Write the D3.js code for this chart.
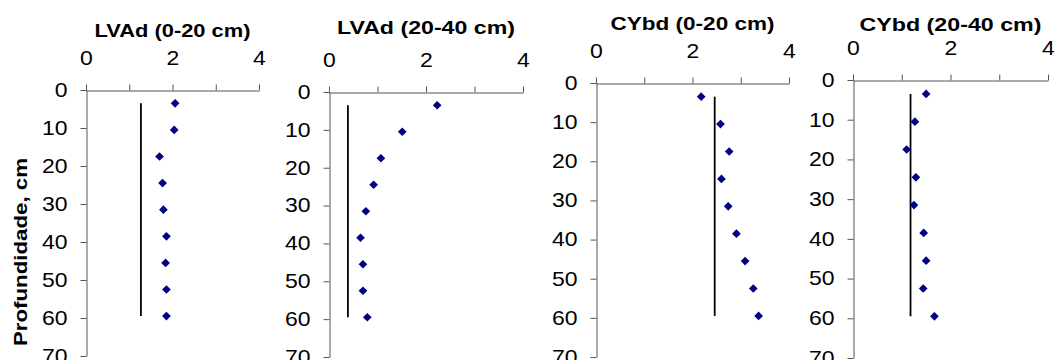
<!DOCTYPE html>
<html>
<head>
<meta charset="utf-8">
<script src="https://cdn.jsdelivr.net/npm/d3@7/dist/d3.min.js"></script>
<style>
  html, body { margin: 0; padding: 0; background: #fff; }
  svg { display: block; }
  text { font-family: "Liberation Sans", Arial, sans-serif; fill: #000; }
</style>
</head>
<body>
<svg id="chart" width="1055" height="360"></svg>
<script>
// Sampling depths (cm), midpoints of 7 cm layers
const depths = [3.5, 10.5, 17.5, 24.5, 31.5, 38.5, 45.5, 52.5, 59.5];

// Panel titles
const titles = ["LVAd (0-20 cm)", "LVAd (20-40 cm)", "CYbd (0-20 cm)", "CYbd (20-40 cm)"];

// Measured values per profile
const lvad020  = [2.06, 2.04, 1.70, 1.77, 1.79, 1.86, 1.84, 1.86, 1.86];
const lvad2040 = [2.23, 1.51, 1.07, 0.92, 0.76, 0.65, 0.70, 0.70, 0.79];
const cybd020  = [2.18, 2.58, 2.76, 2.60, 2.74, 2.91, 3.09, 3.26, 3.37];
const cybd2040 = [1.50, 1.27, 1.10, 1.29, 1.25, 1.45, 1.50, 1.44, 1.67];

// Reference value drawn as a vertical line in each panel, and its depth span
const refValues = [1.27, 0.39, 2.46, 1.18];
const refDepths = [3.5, 59.5];

// Axis ticks
const xTicks = [0, 1, 2, 3, 4];
const xTickLabels = [0, 2, 4];
const yTicks = [0, 10, 20, 30, 40, 50, 60, 70];

const yTitle = "Profundidade, cm";

const series = [lvad020, lvad2040, cybd020, cybd2040];

// Plot frames: left/right of the value axis, top/bottom of the depth axis,
// title baseline and rendered title width
const frames = [
  { x0: 86,  x1: 259,  y0: 90, y1: 356, ty: 36.5, tw: 156 },
  { x0: 329, x1: 523,  y0: 92, y1: 357, ty: 34,   tw: 178 },
  { x0: 596, x1: 789,  y0: 83, y1: 357, ty: 30,   tw: 164 },
  { x0: 853, x1: 1048, y0: 80, y1: 358, ty: 30.5, tw: 182 }
];

const TICK_SX = 1.15;    // horizontal stretch of tick labels
const svg = d3.select("#chart");

frames.forEach((f, i) => {
  const x = d3.scaleLinear().domain([0, 4]).range([f.x0, f.x1]);
  const y = d3.scaleLinear().domain([0, 70]).range([f.y0, f.y1]);
  const g = svg.append("g");

  // Value axis along the top
  const xAxis = g.append("g")
    .attr("transform", `translate(0,${f.y0 + 0.5})`)
    .call(d3.axisTop(x).tickValues(xTicks).tickSize(6).tickSizeOuter(0).tickPadding(20)
      .tickFormat(d => xTickLabels.includes(d) ? d3.format("d")(d) : ""));
  xAxis.select(".domain").attr("stroke", "#555");
  xAxis.selectAll(".tick line").attr("stroke", "#555");
  xAxis.selectAll(".tick text")
    .attr("font-size", 20)
    .attr("font-family", null)
    .attr("transform", `scale(${TICK_SX},1)`);

  // Depth axis on the left
  const yAxis = g.append("g")
    .attr("transform", `translate(${f.x0 + 0.5},0)`)
    .call(d3.axisLeft(y).tickValues(yTicks).tickSize(6).tickSizeOuter(0)
      .tickFormat(d3.format("d")));
  yAxis.select(".domain").attr("stroke", "#555");
  yAxis.selectAll(".tick line").attr("stroke", "#555");
  yAxis.selectAll(".tick text")
    .attr("font-size", 20)
    .attr("font-family", null)
    .attr("x", -19 / TICK_SX)
    .attr("transform", `scale(${TICK_SX},1)`);

  // Title
  g.append("text")
    .attr("x", (f.x0 + f.x1) / 2)
    .attr("y", f.ty)
    .attr("text-anchor", "middle")
    .attr("font-size", 19)
    .attr("font-weight", "bold")
    .attr("textLength", f.tw)
    .attr("lengthAdjust", "spacingAndGlyphs")
    .text(titles[i]);

  // Reference line
  g.append("line")
    .attr("x1", x(refValues[i])).attr("x2", x(refValues[i]))
    .attr("y1", y(refDepths[0])).attr("y2", y(refDepths[1]))
    .attr("stroke", "#000")
    .attr("stroke-width", 1.8);

  // Data points as diamonds
  const diamond = d3.symbol().type(d3.symbolSquare).size(38);
  g.selectAll("path.pt")
    .data(series[i].map((v, k) => ({ v, d: depths[k] })))
    .join("path")
    .attr("class", "pt")
    .attr("d", diamond)
    .attr("transform", d => `translate(${x(d.v)},${y(d.d)}) rotate(45)`)
    .attr("fill", "#000080");
});

// Shared depth-axis title
svg.append("text")
  .attr("transform", `translate(27,252) rotate(-90)`)
  .attr("text-anchor", "middle")
  .attr("font-size", 19)
  .attr("font-weight", "bold")
  .attr("textLength", 188)
  .attr("lengthAdjust", "spacingAndGlyphs")
  .text(yTitle);
</script>
</body>
</html>
